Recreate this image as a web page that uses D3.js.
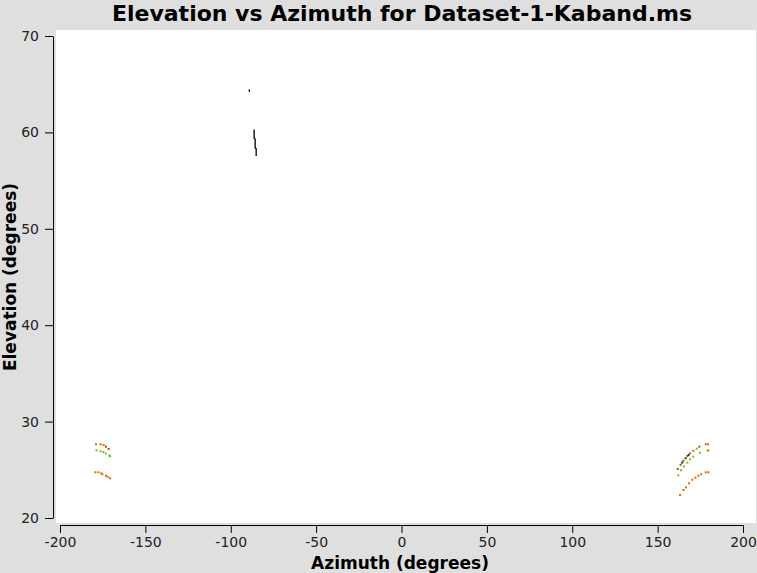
<!DOCTYPE html>
<html><head><meta charset="utf-8">
<script src="https://cdn.jsdelivr.net/npm/d3@7"></script>
<style>html,body{margin:0;padding:0;background:#dfdfdf;}svg{display:block;}</style>
</head><body>
<script>
// ---- data ----
const title = "Elevation vs Azimuth for Dataset-1-Kaband.ms";
const xLabel = "Azimuth (degrees)";
const yLabel = "Elevation (degrees)";
const xTicks = [-200, -150, -100, -50, 0, 50, 100, 150, 200];
const yTicks = [20, 30, 40, 50, 60, 70];

// black traces (dense points forming short lines)
const blackAAz = [-89.1, -89.1];
const blackAEl = [64.47, 64.2];
const blackBAz = [-86.3, -86.3, -85.7, -85.7, -85.1, -85.1];
const blackBEl = [60.3, 59.4, 59.3, 58.4, 58.3, 57.55];

// orange points
const orangeAz = [-178.9, -176.2, -174.4, -179.3, -177.5, -175.8, -175.2, -173.1, -172.1, -170.7,
                  169.0, 170.9, 178.2, 179.5,
                  175.5, 173.8, 172.1, 170.3, 168.4, 166.6, 165.1, 163.1, 178.2, 179.7];
const orangeEl = [27.65, 27.65, 27.57, 24.74, 24.74, 24.64, 24.53, 24.39, 24.28, 24.12,
                  26.71, 26.98, 27.65, 27.65,
                  24.53, 24.39, 24.18, 23.97, 23.60, 23.18, 22.90, 22.39, 24.74, 24.74];
// brown points
const brownAz = [-173.1, -171.5, 174.4, 167.4, 165.1, 163.5, 161.8];
const brownEl = [27.40, 27.16, 27.40, 26.43, 25.94, 25.53, 25.08];
// green points
const greenAz = [-178.6, -176.2, -174.6, -173.1, -171.1, -170.7,
                 179.7, 179.3, 174.8, 170.9, 169.0, 167.4, 165.4, 163.7, 162.1, 172.9];
const greenEl = [27.02, 26.92, 26.85, 26.69, 26.48, 26.40,
                 27.05, 26.98, 26.77, 26.36, 26.09, 25.74, 25.35, 24.95, 24.43, 27.19];
// dark points
const darkAz = [168.2, 166.4, 164.4];
const darkEl = [26.55, 26.20, 25.75];

// ---- drawing ----
const W = 757, H = 573;
const svg = d3.select("body").append("svg").attr("width", W).attr("height", H)
  .style("font-family", "'DejaVu Sans', sans-serif");
svg.append("rect").attr("width", W).attr("height", H).attr("fill", "#dfdfdf");
svg.append("rect").attr("x", 56).attr("y", 30).attr("width", W - 56 - 1).attr("height", 493).attr("fill", "#ffffff");

const x = d3.scaleLinear().domain([-200, 200]).range([60, 743]);
const y = d3.scaleLinear().domain([20, 70]).range([518, 36]);
const fmt = d => String(d);

// title
svg.append("text").attr("x", 402).attr("y", 21).attr("text-anchor", "middle")
  .attr("font-size", 22).attr("font-weight", "bold").attr("fill", "#000").text(title);

// axes
const axX = svg.append("g").attr("transform", "translate(0,525)");
axX.call(d3.axisBottom(x).tickValues(d3.range(-200, 201, 10)).tickSize(3).tickFormat("")).call(g => g.select(".domain").remove());
axX.call(d3.axisBottom(x).tickValues(xTicks).tickSize(8).tickSizeOuter(0).tickPadding(4).tickFormat(fmt));
axX.selectAll("text").attr("font-size", 14).attr("font-family", "'DejaVu Sans', sans-serif").attr("fill", "#222");
axX.selectAll("line,path").attr("stroke", "#000");

const axY = svg.append("g").attr("transform", "translate(53,0)");
axY.call(d3.axisLeft(y).tickValues(d3.range(20, 71, 2)).tickSize(4).tickFormat("")).call(g => g.select(".domain").remove());
axY.call(d3.axisLeft(y).tickValues(yTicks).tickSize(8).tickSizeOuter(0).tickPadding(6).tickFormat(fmt));
axY.selectAll("text").attr("font-size", 14).attr("font-family", "'DejaVu Sans', sans-serif").attr("fill", "#222");
axY.selectAll("line,path").attr("stroke", "#000");

// axis titles
svg.append("text").attr("x", 400).attr("y", 569).attr("text-anchor", "middle")
  .attr("font-size", 17).attr("font-weight", "bold").text(xLabel);
svg.append("text").attr("transform", "translate(16,277) rotate(-90)").attr("text-anchor", "middle")
  .attr("font-size", 17).attr("font-weight", "bold").text(yLabel);

// black traces
const line = d3.line().x(d => x(d[0])).y(d => y(d[1]));
[[blackAAz, blackAEl], [blackBAz, blackBEl]].forEach(([az, el]) => {
  svg.append("path").attr("d", line(d3.zip(az, el))).attr("fill", "none")
    .attr("stroke", "#111").attr("stroke-width", 1.4);
});

// colored points
function pts(az, el, color) {
  svg.append("g").selectAll("rect").data(d3.zip(az, el)).join("rect")
    .attr("x", d => x(d[0]) - 1).attr("y", d => y(d[1]) - 1)
    .attr("width", 2).attr("height", 2).attr("fill", color);
}
pts(greenAz, greenEl, "#66cc00");
pts(brownAz, brownEl, "#a0561a");
pts(orangeAz, orangeEl, "#e07000");
pts(darkAz, darkEl, "#303040");
</script>
</body></html>
